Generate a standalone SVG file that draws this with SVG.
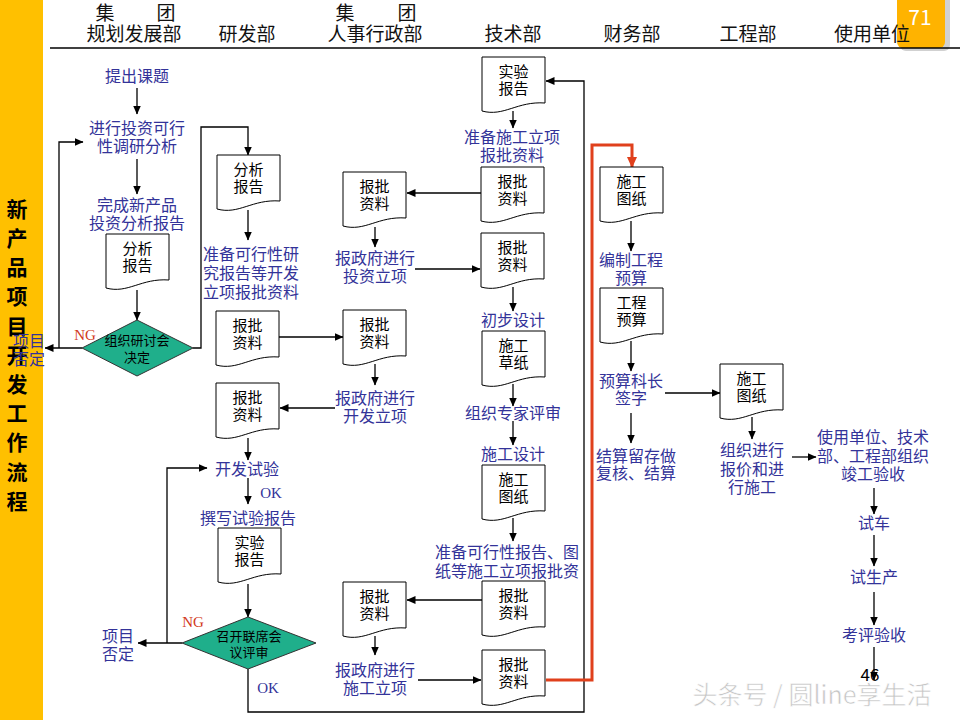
<svg xmlns="http://www.w3.org/2000/svg" width="960" height="720" viewBox="0 0 960 720">
<style>
text{font-family:"Noto Sans CJK SC","Noto Sans CJK TC",sans-serif}
.hdr{font-size:19px;fill:#111;text-anchor:middle}
.lbl{font-size:16px;fill:#333399;text-anchor:middle}
.dt{font-size:15px;fill:#000;text-anchor:middle}
.dmt{font-size:13px;fill:#000;text-anchor:middle}
.side{font-size:21px;font-weight:bold;fill:#000;text-anchor:middle}
.ng{font-family:"Liberation Serif",serif;font-size:15px;fill:#D23A1A;text-anchor:middle}
.ok{font-family:"Liberation Serif",serif;font-size:15px;fill:#333399;text-anchor:middle}
.ln{stroke:#000;stroke-width:1.3;fill:none}
.red{stroke:#E0401C;stroke-width:3;fill:none}
.doc{fill:#fff;stroke:#000;stroke-width:1}
.dia{fill:#1FAF8B;stroke:#333;stroke-width:1}
</style>
<defs>
<path id="docp" d="M0,0H63V46C35,44 22,60 0,54Z"/>
<marker id="ah" markerWidth="9" markerHeight="8" refX="8.5" refY="4" orient="auto" markerUnits="userSpaceOnUse"><path d="M0,0L9,4L0,8Z" fill="#000"/></marker>
<marker id="ahr" markerWidth="12" markerHeight="10" refX="10" refY="5" orient="auto" markerUnits="userSpaceOnUse"><path d="M0,0L11,5L0,10Z" fill="#E0401C"/></marker>
</defs>
<rect width="960" height="720" fill="#fff"/>
<!-- sidebar -->
<rect x="0" y="0" width="43" height="720" fill="#FFC000"/>
<g id="sidebar-title">
<text class="side" x="17" y="217">新</text>
<text class="side" x="17" y="246">产</text>
<text class="side" x="17" y="275">品</text>
<text class="side" x="17" y="304">项</text>
<text class="side" x="17" y="334">目</text>
<text class="side" x="17" y="363">开</text>
<text class="side" x="17" y="392">发</text>
<text class="side" x="17" y="421">工</text>
<text class="side" x="17" y="450">作</text>
<text class="side" x="17" y="480">流</text>
<text class="side" x="17" y="509">程</text>
</g>
<g id="badge">
<rect x="900" y="-6" width="50" height="57" rx="6" fill="#9a9a9a" opacity="0.45"/>
<rect x="897" y="-6" width="48" height="54" rx="6" fill="#FFB300"/>
<text x="920" y="25" font-family="Liberation Sans,sans-serif" font-size="21" fill="#fff" text-anchor="middle">71</text>
</g>
<!-- header -->
<g id="header">
<text class="hdr" x="105" y="20">集</text><text class="hdr" x="166" y="20">团</text>
<text class="hdr" x="134" y="41">规划发展部</text>
<text class="hdr" x="247" y="41">研发部</text>
<text class="hdr" x="345" y="20">集</text><text class="hdr" x="407" y="20">团</text>
<text class="hdr" x="375" y="41">人事行政部</text>
<text class="hdr" x="513" y="41">技术部</text>
<text class="hdr" x="632" y="41">财务部</text>
<text class="hdr" x="748" y="41">工程部</text>
<text class="hdr" x="872" y="41">使用单位</text>
<line x1="50" y1="48" x2="960" y2="48" stroke="#000" stroke-width="1.3"/>
</g>

<!-- connectors -->
<g id="connectors">
<path class="ln" d="M137,88V114" marker-end="url(#ah)"/>
<path class="ln" d="M137,159V194" marker-end="url(#ah)"/>
<path class="ln" d="M137,290V320" marker-end="url(#ah)"/>
<path class="ln" d="M82,348H45" marker-end="url(#ah)"/>
<path class="ln" d="M59,348V142H83" marker-end="url(#ah)"/>
<path class="ln" d="M193,348H201V127H248V155" marker-end="url(#ah)"/>
<path class="ln" d="M248,210V240" marker-end="url(#ah)"/>
<path class="ln" d="M279,337H343" marker-end="url(#ah)"/>
<path class="ln" d="M335,408H280" marker-end="url(#ah)"/>
<path class="ln" d="M248,438V460" marker-end="url(#ah)"/>
<path class="ln" d="M248,478V504" marker-end="url(#ah)"/>
<path class="ln" d="M248,584V617" marker-end="url(#ah)"/>
<path class="ln" d="M182,643H138" marker-end="url(#ah)"/>
<path class="ln" d="M167,643V468H207" marker-end="url(#ah)"/>
<path class="ln" d="M248,669V712H584V81H546" marker-end="url(#ah)"/>
<path class="ln" d="M513,111V128" marker-end="url(#ah)"/>
<path class="ln" d="M481,193H407" marker-end="url(#ah)"/>
<path class="ln" d="M375,227V247" marker-end="url(#ah)"/>
<path class="ln" d="M415,269H480" marker-end="url(#ah)"/>
<path class="ln" d="M513,287V311" marker-end="url(#ah)"/>
<path class="ln" d="M375,364V385" marker-end="url(#ah)"/>
<path class="ln" d="M513,384V406" marker-end="url(#ah)"/>
<path class="ln" d="M513,421V445" marker-end="url(#ah)"/>
<path class="ln" d="M513,518V541" marker-end="url(#ah)"/>
<path class="ln" d="M482,600H407" marker-end="url(#ah)"/>
<path class="ln" d="M375,636V655" marker-end="url(#ah)"/>
<path class="ln" d="M418,680H481" marker-end="url(#ah)"/>
<path class="red" d="M546,680H592V145H632V167" marker-end="url(#ahr)"/>
<path class="ln" d="M631,221V251" marker-end="url(#ah)"/>
<path class="ln" d="M631,341V371" marker-end="url(#ah)"/>
<path class="ln" d="M665,393H720" marker-end="url(#ah)"/>
<path class="ln" d="M631,413V443" marker-end="url(#ah)"/>
<path class="ln" d="M752,417V439" marker-end="url(#ah)"/>
<path class="ln" d="M792,457H816" marker-end="url(#ah)"/>
<path class="ln" d="M874,488V514" marker-end="url(#ah)"/>
<path class="ln" d="M874,535V566" marker-end="url(#ah)"/>
<path class="ln" d="M874,592V625" marker-end="url(#ah)"/>
<path class="ln" d="M874,647V680" marker-end="url(#ah)"/>
</g>

<!-- column 1 -->
<g id="n-tichu"><text class="lbl" x="137" y="82">提出课题</text></g>
<g id="n-kexing"><text class="lbl" x="137" y="134">进行投资可行</text><text class="lbl" x="137" y="152">性调研分析</text></g>
<g id="n-wancheng"><text class="lbl" x="137" y="211">完成新产品</text><text class="lbl" x="137" y="229">投资分析报告</text></g>
<g id="d-fenxi1"><use href="#docp" class="doc" x="106" y="234"/><text class="dt" x="137.5" y="254">分析</text><text class="dt" x="137.5" y="271">报告</text></g>
<g id="dia-yantao"><polygon class="dia" points="137,320 193,348 137,376 82,348"/><text class="dmt" x="137" y="345">组织研讨会</text><text class="dmt" x="137" y="362">决定</text></g>
<g id="n-ng1"><text class="ng" x="85" y="340">NG</text></g>
<g id="n-fouding1"><text class="lbl" x="29" y="347" font-size="15">项目</text><text class="lbl" x="29" y="365" font-size="15">否定</text></g>

<!-- column 2 -->
<g id="d-fenxi2"><use href="#docp" class="doc" x="217" y="155"/><text class="dt" x="248.5" y="175">分析</text><text class="dt" x="248.5" y="192">报告</text></g>
<g id="n-zhunbei1"><text class="lbl" x="251" y="260">准备可行性研</text><text class="lbl" x="251" y="279">究报告等开发</text><text class="lbl" x="251" y="298">立项报批资料</text></g>
<g id="d-baopi-c2a"><use href="#docp" class="doc" x="216" y="311"/><text class="dt" x="247.5" y="331">报批</text><text class="dt" x="247.5" y="348">资料</text></g>
<g id="d-baopi-c2b"><use href="#docp" class="doc" x="216" y="383"/><text class="dt" x="247.5" y="403">报批</text><text class="dt" x="247.5" y="420">资料</text></g>
<g id="n-kaifa"><text class="lbl" x="247" y="475">开发试验</text></g>
<g id="n-ok1"><text class="ok" x="271" y="498">OK</text></g>
<g id="n-zhuanxie"><text class="lbl" x="248" y="524">撰写试验报告</text></g>
<g id="d-shiyan1"><use href="#docp" class="doc" x="218" y="528"/><text class="dt" x="249.5" y="548">实验</text><text class="dt" x="249.5" y="565">报告</text></g>
<g id="dia-lianxi"><polygon class="dia" points="248,617 316,643 248,669 182,643"/><text class="dmt" x="249" y="641">召开联席会</text><text class="dmt" x="249" y="657">议评审</text></g>
<g id="n-ng2"><text class="ng" x="193" y="627">NG</text></g>
<g id="n-fouding2"><text class="lbl" x="118" y="642">项目</text><text class="lbl" x="118" y="660">否定</text></g>
<g id="n-ok2"><text class="ok" x="268" y="693">OK</text></g>

<!-- column 3 -->
<g id="d-baopi-c3a"><use href="#docp" class="doc" x="343" y="172"/><text class="dt" x="374.5" y="192">报批</text><text class="dt" x="374.5" y="209">资料</text></g>
<g id="n-zhengfu1"><text class="lbl" x="375" y="264">报政府进行</text><text class="lbl" x="375" y="282">投资立项</text></g>
<g id="d-baopi-c3b"><use href="#docp" class="doc" x="343" y="310"/><text class="dt" x="374.5" y="330">报批</text><text class="dt" x="374.5" y="347">资料</text></g>
<g id="n-zhengfu2"><text class="lbl" x="375" y="404">报政府进行</text><text class="lbl" x="375" y="422">开发立项</text></g>
<g id="d-baopi-c3c"><use href="#docp" class="doc" x="343" y="582"/><text class="dt" x="374.5" y="602">报批</text><text class="dt" x="374.5" y="619">资料</text></g>
<g id="n-zhengfu3"><text class="lbl" x="375" y="676">报政府进行</text><text class="lbl" x="375" y="694">施工立项</text></g>

<!-- column 4 -->
<g id="d-shiyan2"><use href="#docp" class="doc" x="482" y="57"/><text class="dt" x="513.5" y="77">实验</text><text class="dt" x="513.5" y="94">报告</text></g>
<g id="n-zhunbei2"><text class="lbl" x="512" y="143">准备施工立项</text><text class="lbl" x="512" y="161">报批资料</text></g>
<g id="d-baopi-c4a"><use href="#docp" class="doc" x="481" y="167"/><text class="dt" x="512.5" y="187">报批</text><text class="dt" x="512.5" y="204">资料</text></g>
<g id="d-baopi-c4b"><use href="#docp" class="doc" x="481" y="233"/><text class="dt" x="512.5" y="253">报批</text><text class="dt" x="512.5" y="270">资料</text></g>
<g id="n-chubu"><text class="lbl" x="513" y="326">初步设计</text></g>
<g id="d-caozhi"><use href="#docp" class="doc" x="482" y="331"/><text class="dt" x="513.5" y="351">施工</text><text class="dt" x="513.5" y="368">草纸</text></g>
<g id="n-pingshen"><text class="lbl" x="513" y="419">组织专家评审</text></g>
<g id="n-shigongsheji"><text class="lbl" x="513" y="460">施工设计</text></g>
<g id="d-tuzhi1"><use href="#docp" class="doc" x="482" y="465"/><text class="dt" x="513.5" y="485">施工</text><text class="dt" x="513.5" y="502">图纸</text></g>
<g id="n-zhunbei3"><text class="lbl" x="507" y="558">准备可行性报告、图</text><text class="lbl" x="507" y="577">纸等施工立项报批资</text></g>
<g id="d-baopi-c4c"><use href="#docp" class="doc" x="482" y="581"/><text class="dt" x="513.5" y="601">报批</text><text class="dt" x="513.5" y="618">资料</text></g>
<g id="d-baopi-c4d"><use href="#docp" class="doc" x="482" y="650"/><text class="dt" x="513.5" y="670">报批</text><text class="dt" x="513.5" y="687">资料</text></g>

<!-- column 5 -->
<g id="d-tuzhi2"><use href="#docp" class="doc" x="600" y="167"/><text class="dt" x="631.5" y="187">施工</text><text class="dt" x="631.5" y="204">图纸</text></g>
<g id="n-bianzhi"><text class="lbl" x="631" y="266">编制工程</text><text class="lbl" x="631" y="284">预算</text></g>
<g id="d-yusuan"><use href="#docp" class="doc" x="600" y="288"/><text class="dt" x="631.5" y="308">工程</text><text class="dt" x="631.5" y="325">预算</text></g>
<g id="n-kezhang"><text class="lbl" x="631" y="387">预算科长</text><text class="lbl" x="631" y="404">签字</text></g>
<g id="n-jiesuan"><text class="lbl" x="636" y="462">结算留存做</text><text class="lbl" x="636" y="479">复核、结算</text></g>

<!-- column 6 -->
<g id="d-tuzhi3"><use href="#docp" class="doc" x="720" y="364"/><text class="dt" x="751.5" y="384">施工</text><text class="dt" x="751.5" y="401">图纸</text></g>
<g id="n-baojia"><text class="lbl" x="752" y="456">组织进行</text><text class="lbl" x="752" y="475">报价和进</text><text class="lbl" x="752" y="493">行施工</text></g>

<!-- column 7 -->
<g id="n-yanshou"><text class="lbl" x="873" y="443">使用单位、技术</text><text class="lbl" x="873" y="462">部、工程部组织</text><text class="lbl" x="873" y="480">竣工验收</text></g>
<g id="n-shiche"><text class="lbl" x="874" y="529">试车</text></g>
<g id="n-shishengchan"><text class="lbl" x="874" y="583">试生产</text></g>
<g id="n-kaoping"><text class="lbl" x="874" y="641">考评验收</text></g>
<g id="pageno"><text x="870" y="681" font-family="Liberation Serif,serif" font-size="17" fill="#000" text-anchor="middle">46</text></g>
<g id="watermark"><text x="812" y="704" font-size="25" fill="#c0c0c0" stroke="#fff" stroke-width="0.6" text-anchor="middle" opacity="0.9">头条号 / 圆line享生活</text></g>
</svg>
